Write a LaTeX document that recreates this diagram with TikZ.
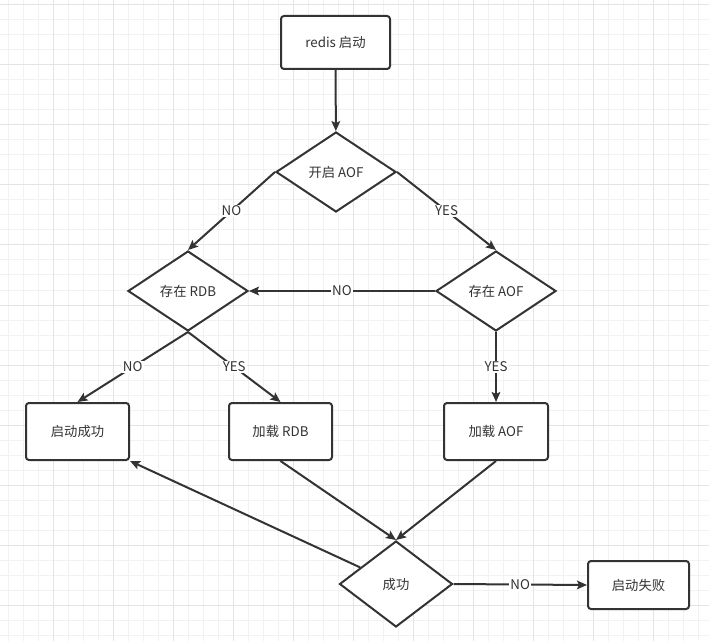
\documentclass[tikz,border=0pt]{standalone}
\usepackage{fontspec}
\setmainfont{Noto Sans CJK SC}
\usetikzlibrary{arrows.meta,shapes.geometric}
\definecolor{ink}{HTML}{333333}
\definecolor{gridminor}{HTML}{F2F2F2}
\definecolor{gridmajor}{HTML}{E4E4E4}
\newcommand{\chartfont}{\fontsize{10pt}{12pt}\selectfont}

\begin{document}
\begin{tikzpicture}[
    x=0.75pt, y=-0.75pt,
    >={Stealth[length=7.5pt, width=6.5pt, inset=1.5pt]}, line width=1.5pt, color=ink,
    box/.style={rectangle, rounded corners=2.25pt, draw, fill=white, font=\chartfont, minimum width=77.25pt, minimum height=42.75pt},
    cond/.style={diamond, draw, fill=white, font=\chartfont, inner sep=0pt, aspect=1.5, minimum width=90pt, minimum height=60pt},
    lbl/.style={font=\chartfont, inner sep=1pt, fill=white},
    gline/.style={line width=0.75pt}
  ]
  \useasboundingbox (0,0) rectangle (709,641);
  % grid background
  \foreach \gx in {8,23,...,708} \draw[gline, gridminor] (\gx,0) -- (\gx,641);
  \foreach \gy in {5,20,...,640} \draw[gline, gridminor] (0,\gy) -- (709,\gy);
  \foreach \gx in {53,113,...,708} \draw[gline, gridmajor] (\gx,0) -- (\gx,641);
  \foreach \gy in {5,65,...,640} \draw[gline, gridmajor] (0,\gy) -- (709,\gy);

  \node[box, minimum width=81.75pt, minimum height=39.75pt] (start) at (335.5,42.5) {redis 启动};
  \node[cond] (aof) at (336,172) {开启 AOF};
  \node[cond] (rdbq) at (188,291) {存在 RDB};
  \node[cond] (aofq) at (496,291) {存在 AOF};
  \node[box] (ok) at (77.5,431.5) {启动成功};
  \node[box] (loadrdb) at (280.5,431.5) {加载 RDB};
  \node[box, minimum width=78pt] (loadaof) at (496,431.5) {加载 AOF};
  \node[cond, minimum width=84.75pt, minimum height=64.5pt] (succ) at (396,584) {成功};
  \node[box, minimum width=75.75pt, minimum height=36pt] (fail) at (638.5,585) {启动失败};

  \draw[->] (start) -- (aof);
  \draw[->] (aof.west) -- node[lbl] {NO} (rdbq.north);
  \draw[->] (aof.east) -- node[lbl] {YES} (aofq.north);
  \draw[->] (aofq.west) -- node[lbl] {NO} (rdbq.east);
  \draw[->] (rdbq.south) -- node[lbl] {NO} (ok.north);
  \draw[->] (rdbq.south) -- node[lbl] {YES} (loadrdb.north);
  \draw[->] (aofq.south) -- node[lbl] {YES} (loadaof.north);
  % both loads end in one check
  \draw[->] (loadrdb.south) -- (succ.north);
  \draw[->] (loadaof.south) -- (succ.north);
  \draw[->] (succ) -- (ok.south east);
  \draw[->] (succ.east) -- node[lbl] {NO} (fail.west);
\end{tikzpicture}
\end{document}
